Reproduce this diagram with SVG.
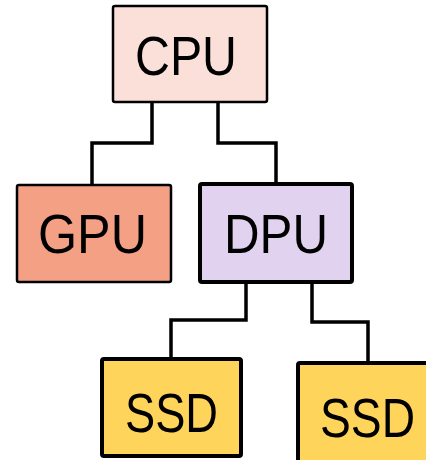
<svg xmlns="http://www.w3.org/2000/svg" width="426" height="460" viewBox="0 0 426 460">
<style>
.box{stroke:#000;stroke-linejoin:round}
.thin{stroke-width:2.5}
.thick{stroke-width:4}
.lbl{font-family:"Liberation Sans",Arial,sans-serif;font-size:55px;fill:#000;text-anchor:middle}
.con{fill:none;stroke:#000;stroke-width:3.5;stroke-linejoin:miter}
</style>
<rect width="426" height="460" fill="#fff"/>
<g id="connectors">
<polyline class="con" points="152,102 152,143 92,143 92,185"/>
<polyline class="con" points="218,102 218,143 276,143 276,184"/>
<polyline class="con" points="246,282 246,320 171,320 171,359"/>
<polyline class="con" points="312,282 312,322 368,322 368,363"/>
</g>
<g id="cpu">
<rect class="box thin" x="113" y="6" width="154" height="96" rx="2" fill="#FBE0DA"/>
<text class="lbl" x="186" y="75" textLength="102" lengthAdjust="spacingAndGlyphs">CPU</text>
</g>
<g id="gpu">
<rect class="box thin" x="17" y="185" width="154" height="97" rx="2" fill="#F4A084"/>
<text class="lbl" x="92.5" y="253" textLength="109" lengthAdjust="spacingAndGlyphs">GPU</text>
</g>
<g id="dpu">
<rect class="box thick" x="200" y="184" width="152" height="98" rx="2" fill="#E1D3F0"/>
<text class="lbl" x="276" y="253" textLength="104" lengthAdjust="spacingAndGlyphs">DPU</text>
</g>
<g id="ssd1">
<rect class="box thick" x="102" y="359" width="139" height="97" rx="2" fill="#FFD45A"/>
<text class="lbl" x="171.5" y="432" textLength="93" lengthAdjust="spacingAndGlyphs">SSD</text>
</g>
<g id="ssd2">
<rect class="box thick" x="298" y="363" width="140" height="110" rx="2" fill="#FFD45A"/>
<text class="lbl" x="367.5" y="437" textLength="95" lengthAdjust="spacingAndGlyphs">SSD</text>
</g>
</svg>
